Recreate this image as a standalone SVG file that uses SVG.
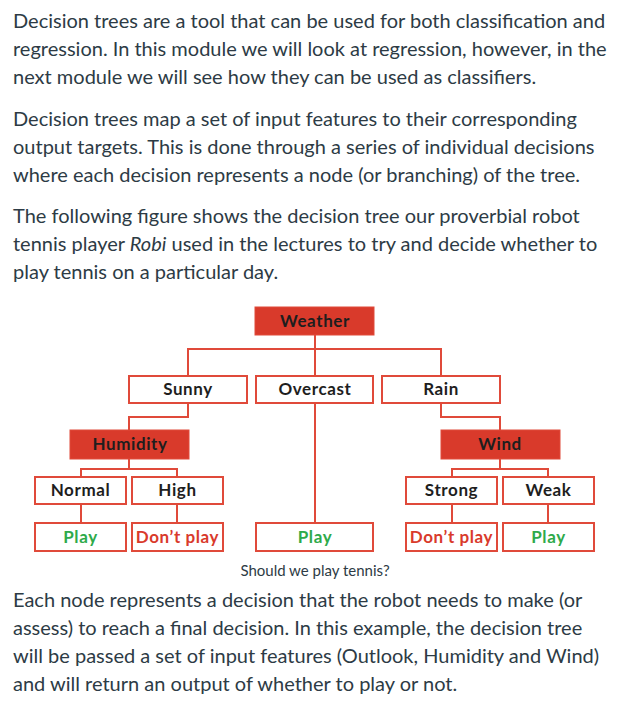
<svg xmlns="http://www.w3.org/2000/svg" width="618" height="712" viewBox="0 0 618 712">
<style>
.p{font-family:Lato,"Liberation Sans",sans-serif;font-size:20px;fill:#2d3b45}
.cap{font-family:Lato,"Liberation Sans",sans-serif;font-size:15px;fill:#2d3b45;text-anchor:middle}
.box{fill:#fff;stroke:#e04a3a;stroke-width:2}
.rbox{fill:#d93a2b;stroke:#e04a3a;stroke-width:1}
.lbl{font-family:Lato,"Noto Sans","Liberation Sans",sans-serif;font-size:17px;letter-spacing:0.6px;font-weight:bold;text-anchor:middle;fill:#1e1e1e}
.g{fill:#2eaa4a}
.r{fill:#d93a2b}
.ln{fill:none;stroke:#e04a3a;stroke-width:2}
</style>
<rect width="618" height="712" fill="#fff"/>
<g id="intro">
<text class="p" x="13" y="28">Decision trees are a tool that can be used for both classification and</text>
<text class="p" x="13" y="56">regression. In this module we will look at regression, however, in the</text>
<text class="p" x="13" y="84">next module we will see how they can be used as classifiers.</text>
<text class="p" x="13" y="126">Decision trees map a set of input features to their corresponding</text>
<text class="p" x="13" y="154">output targets. This is done through a series of individual decisions</text>
<text class="p" x="13" y="182">where each decision represents a node (or branching) of the tree.</text>
<text class="p" x="13" y="223">The following figure shows the decision tree our proverbial robot</text>
<text class="p" x="13" y="251">tennis player <tspan font-style="italic">Robi</tspan> used in the lectures to try and decide whether to</text>
<text class="p" x="13" y="279">play tennis on a particular day.</text>
</g>
<g id="connectors">
<path class="ln" d="M315 335V376M188 376V349H441V376"/>
<path class="ln" d="M188 403V417H129V430"/>
<path class="ln" d="M441 403V417H500V430"/>
<path class="ln" d="M315 403V523"/>
<path class="ln" d="M129 459V469M81 477V469H177V477"/>
<path class="ln" d="M500 459V469M452 477V469H548V477"/>
<path class="ln" d="M81 504V523M177 504V523M452 504V523M548 504V523"/>
</g>
<g id="weather"><rect class="rbox" x="255" y="307" width="119" height="28"/><text class="lbl" x="315" y="327">Weather</text></g>
<g id="sunny"><rect class="box" x="129" y="376" width="118" height="27"/><text class="lbl" x="188" y="395">Sunny</text></g>
<g id="overcast"><rect class="box" x="256" y="376" width="117" height="27"/><text class="lbl" x="315" y="395">Overcast</text></g>
<g id="rain"><rect class="box" x="382" y="376" width="118" height="27"/><text class="lbl" x="441" y="395">Rain</text></g>
<g id="humidity"><rect class="rbox" x="70" y="430" width="119" height="29"/><text class="lbl" x="130" y="450">Humidity</text></g>
<g id="wind"><rect class="rbox" x="441" y="430" width="119" height="29"/><text class="lbl" x="500" y="450">Wind</text></g>
<g id="normal"><rect class="box" x="35" y="477" width="91" height="27"/><text class="lbl" x="80.5" y="496">Normal</text></g>
<g id="high"><rect class="box" x="132" y="477" width="91" height="27"/><text class="lbl" x="177.5" y="496">High</text></g>
<g id="strong"><rect class="box" x="406" y="477" width="91" height="27"/><text class="lbl" x="451.5" y="496">Strong</text></g>
<g id="weak"><rect class="box" x="503" y="477" width="91" height="27"/><text class="lbl" x="548.5" y="496">Weak</text></g>
<g id="play1"><rect class="box" x="35" y="523" width="91" height="28"/><text class="lbl g" x="80.5" y="543">Play</text></g>
<g id="noplay1"><rect class="box" x="132" y="523" width="91" height="28"/><text class="lbl r" x="177.5" y="543">Don’t play</text></g>
<g id="play2"><rect class="box" x="256" y="523" width="117" height="28"/><text class="lbl g" x="315" y="543">Play</text></g>
<g id="noplay2"><rect class="box" x="406" y="523" width="91" height="28"/><text class="lbl r" x="451.5" y="543">Don’t play</text></g>
<g id="play3"><rect class="box" x="503" y="523" width="91" height="28"/><text class="lbl g" x="548.5" y="543">Play</text></g>
<text class="cap" x="315" y="576">Should we play tennis?</text>
<g id="outro">
<text class="p" x="13" y="607">Each node represents a decision that the robot needs to make (or</text>
<text class="p" x="13" y="635">assess) to reach a final decision. In this example, the decision tree</text>
<text class="p" x="13" y="663">will be passed a set of input features (Outlook, Humidity and Wind)</text>
<text class="p" x="13" y="691">and will return an output of whether to play or not.</text>
</g>
</svg>
